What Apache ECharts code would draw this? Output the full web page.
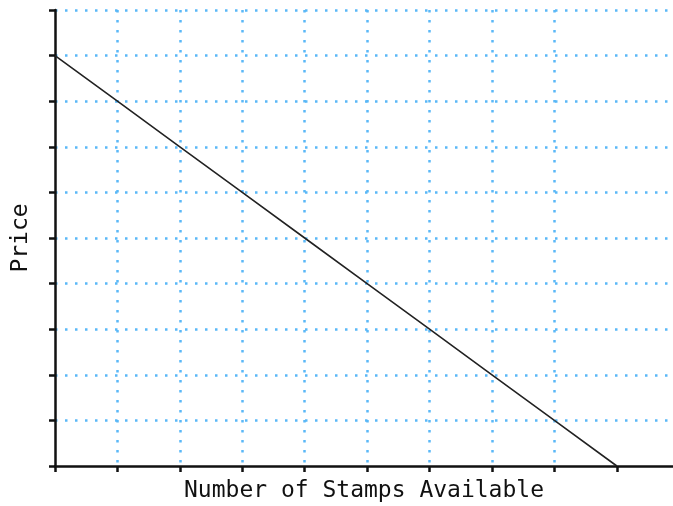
<!DOCTYPE html>
<html>
<head>
<meta charset="utf-8">
<script src="https://cdn.jsdelivr.net/npm/echarts@6/dist/echarts.min.js"></script>
<style>html,body{margin:0;padding:0;background:#fff}#c{width:673px;height:506px}</style>
</head>
<body>
<div id="c"></div>
<script>
var stamps = [0, 1, 2, 3, 4, 5, 6, 7, 8, 9];
var prices = [9, 8, 7, 6, 5, 4, 3, 2, 1, 0];
var xTicks = [0, 1, 2, 3, 4, 5, 6, 7, 8, 9];
var xName = 'Number of Stamps Available';
var yName = 'Price';

var chart = echarts.init(document.getElementById('c'));
var font = 'DejaVu Sans Mono';
var grid = { type: [2.5, 7.5], width: 2.5, color: '#5ab8f7' };
chart.setOption({
  animation: false,
  grid: { left: 55, right: 0, top: 10, bottom: 40, containLabel: false, outerBoundsMode: 'none' },
  xAxis: {
    type: 'value', min: 0, max: 9.9, interval: 1,
    name: xName, nameLocation: 'middle', nameGap: 14,
    nameTextStyle: { fontFamily: font, fontSize: 23, fontWeight: 500, color: '#111', verticalAlign: 'top' },
    axisLine: { show: true, onZero: false, lineStyle: { color: '#111', width: 2.5 } },
    axisTick: { show: true, length: 6, inside: false, customValues: xTicks, lineStyle: { color: '#111', width: 2.5 } },
    axisLabel: { show: false },
    splitLine: { show: true, showMinLine: false, showMaxLine: false, lineStyle: grid }
  },
  yAxis: {
    type: 'value', min: 0, max: 10, interval: 1,
    name: yName, nameLocation: 'middle', nameGap: 22,
    nameTextStyle: { fontFamily: font, fontSize: 23, fontWeight: 500, color: '#111', verticalAlign: 'bottom' },
    axisLine: { show: true, lineStyle: { color: '#111', width: 2.5 } },
    axisTick: { show: true, length: 6, inside: false, lineStyle: { color: '#111', width: 2.5 } },
    axisLabel: { show: false },
    splitLine: { show: true, showMinLine: false, lineStyle: grid }
  },
  series: [{
    type: 'line',
    data: stamps.map(function (s, i) { return [s, prices[i]]; }),
    showSymbol: false,
    lineStyle: { color: '#222', width: 1.6 },
    z: 5
  }]
});
</script>
</body>
</html>
